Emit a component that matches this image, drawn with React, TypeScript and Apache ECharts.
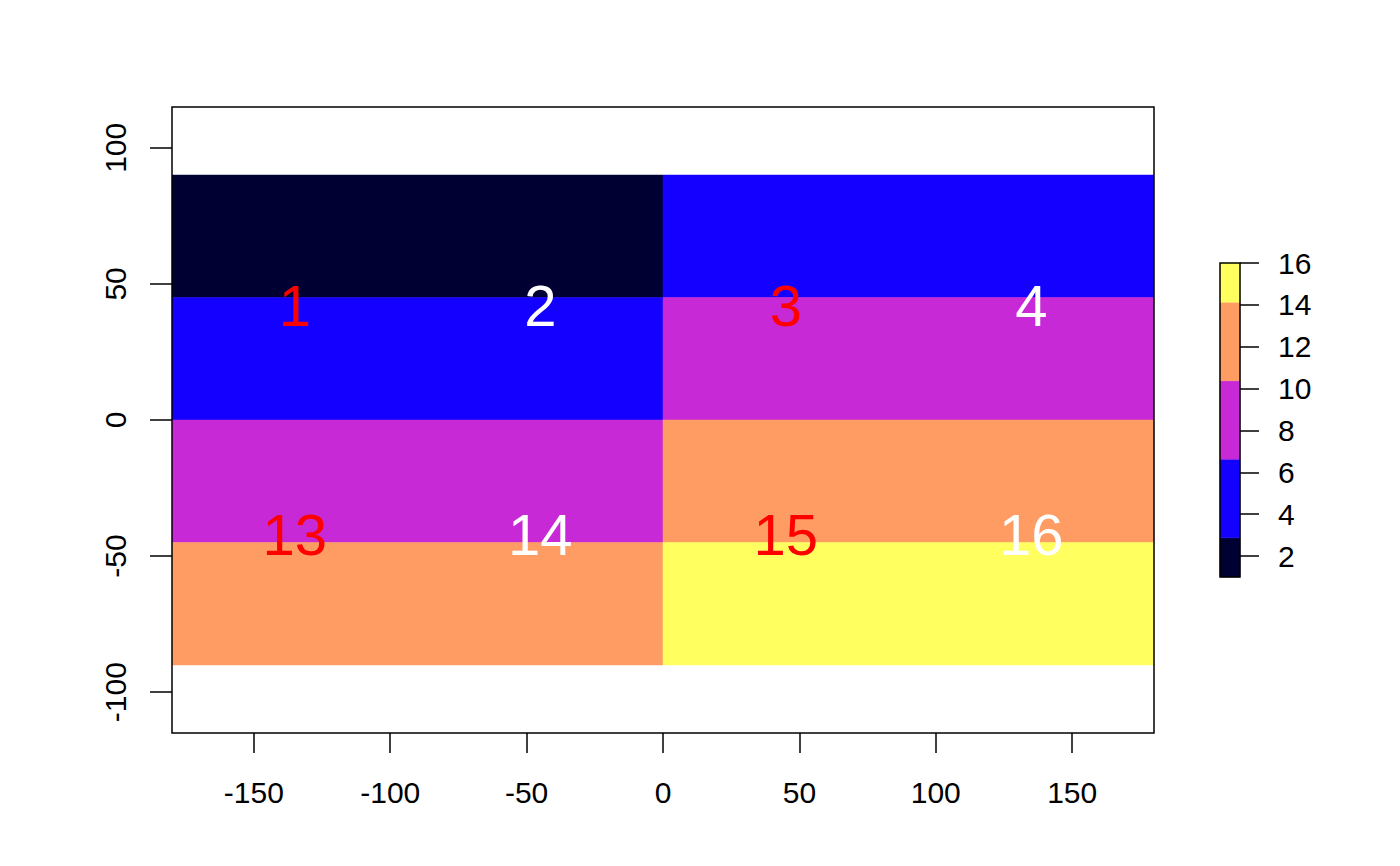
import React, { useEffect, useRef } from "react";
import * as echarts from "echarts";

// Raster extent (cell edges) and values, rows listed top to bottom
const xEdges = [-180, 0, 180];
const yEdges = [90, 45, 0, -45, -90];
const cellValues = [
  [1, 4.75],
  [4.75, 8.5],
  [8.5, 12.25],
  [12.25, 16],
];

// Colour classes of the legend
const legendBreaks = [1, 2.875, 6.625, 10.375, 14.125, 16];
const binColors = ["#000033", "#1400FF", "#C729D6", "#FF9C63", "#FFFF60"];
const legendTicks = [2, 4, 6, 8, 10, 12, 14, 16];

// Axis ticks
const xTicks = [-150, -100, -50, 0, 50, 100, 150];
const yTicks = [-100, -50, 0, 50, 100];

// Cell number labels
const labelX = [-135, -45, 45, 135, -135, -45, 45, 135];
const labelY = [42, 42, 42, 42, -42, -42, -42, -42];
const labelText = ["1", "2", "3", "4", "13", "14", "15", "16"];

function colorFor(v: number): string {
  for (let i = 0; i < binColors.length; i++) {
    if (v <= legendBreaks[i + 1]) return binColors[i];
  }
  return binColors[binColors.length - 1];
}

const FONT = "Liberation Sans, Arial, Helvetica, sans-serif";

export default function App() {
  const ref = useRef<HTMLDivElement>(null);
  useEffect(() => {
    if (!ref.current) return;
    const chart = echarts.init(ref.current, undefined, { renderer: "svg" });

    const cells: number[][] = [];
    for (let r = 0; r < cellValues.length; r++) {
      for (let c = 0; c < cellValues[r].length; c++) {
        cells.push([xEdges[c], xEdges[c + 1], yEdges[r], yEdges[r + 1], cellValues[r][c]]);
      }
    }
    const labels = labelText.map((t, i) => [labelX[i], labelY[i], i]);
    const bins = binColors.map((_, i) => [legendBreaks[i], legendBreaks[i + 1], i]);

    const tickStyle = { color: "#000", width: 1.5 };

    const option: any = {
      animation: false,
      backgroundColor: "#ffffff",
      grid: [
        { left: 172, top: 107, width: 982, height: 626, show: true, borderColor: "#000", borderWidth: 1.5, z: 10, backgroundColor: "transparent" },
        { left: 1220, top: 263, width: 20, height: 314, show: true, borderColor: "#000", borderWidth: 1.5, z: 10, backgroundColor: "transparent" },
      ],
      xAxis: [
        {
          type: "value", gridIndex: 0, min: -180, max: 180, position: "bottom", z: 10,
          splitLine: { show: false },
          axisLine: { show: false, onZero: false },
          axisTick: { show: true, inside: false, length: 20, customValues: xTicks, lineStyle: tickStyle },
          axisLabel: { show: true, customValues: xTicks, margin: 44, color: "#000", fontSize: 30, fontFamily: FONT },
        },
        { type: "value", gridIndex: 1, min: 0, max: 1, show: false, axisLine: { onZero: false } },
      ],
      yAxis: [
        {
          type: "value", gridIndex: 0, min: -115, max: 115, position: "left", z: 10,
          splitLine: { show: false },
          axisLine: { show: false, onZero: false },
          axisTick: { show: true, inside: false, length: 22, customValues: yTicks, lineStyle: tickStyle },
          axisLabel: { show: true, customValues: yTicks, rotate: 90, margin: 42, color: "#000", fontSize: 30, fontFamily: FONT },
        },
        {
          type: "value", gridIndex: 1, min: 1, max: 16, position: "right", z: 10,
          splitLine: { show: false },
          axisLine: { show: false, onZero: false },
          axisTick: { show: true, inside: false, length: 19, customValues: legendTicks, lineStyle: tickStyle },
          axisLabel: { show: true, customValues: legendTicks, margin: 38, color: "#000", fontSize: 30, fontFamily: FONT },
        },
      ],
      series: [
        {
          type: "custom", xAxisIndex: 0, yAxisIndex: 0, z: 1, clip: true,
          data: cells,
          renderItem: (params: any, api: any) => {
            const p0 = api.coord([api.value(0), api.value(2)]);
            const p1 = api.coord([api.value(1), api.value(3)]);
            return {
              type: "rect",
              shape: {
                x: Math.min(p0[0], p1[0]), y: Math.min(p0[1], p1[1]),
                width: Math.abs(p1[0] - p0[0]), height: Math.abs(p1[1] - p0[1]),
              },
              style: { fill: colorFor(api.value(4)), stroke: colorFor(api.value(4)), lineWidth: 0.5 },
            };
          },
        },
        {
          type: "custom", xAxisIndex: 0, yAxisIndex: 0, z: 3,
          data: labels,
          renderItem: (params: any, api: any) => {
            const p = api.coord([api.value(0), api.value(1)]);
            const i = api.value(2);
            return {
              type: "text",
              x: p[0], y: p[1],
              style: {
                text: labelText[i],
                fill: i % 2 === 0 ? "#FF0000" : "#FFFFFF",
                font: `58px ${FONT}`,
                align: "center",
                verticalAlign: "middle",
              },
            };
          },
        },
        {
          type: "custom", xAxisIndex: 1, yAxisIndex: 1, z: 1,
          data: bins,
          renderItem: (params: any, api: any) => {
            const p0 = api.coord([0, api.value(1)]);
            const p1 = api.coord([1, api.value(0)]);
            const c = binColors[api.value(2)];
            return {
              type: "rect",
              shape: { x: p0[0], y: p0[1], width: p1[0] - p0[0], height: p1[1] - p0[1] },
              style: { fill: c, stroke: c, lineWidth: 0.5 },
            };
          },
        },
      ],
    };
    chart.setOption(option);
    return () => chart.dispose();
  }, []);
  return (
    <div
      ref={ref}
      style={{ position: "fixed", left: 0, top: 0, width: 1400, height: 866, background: "#fff" }}
    />
  );
}
